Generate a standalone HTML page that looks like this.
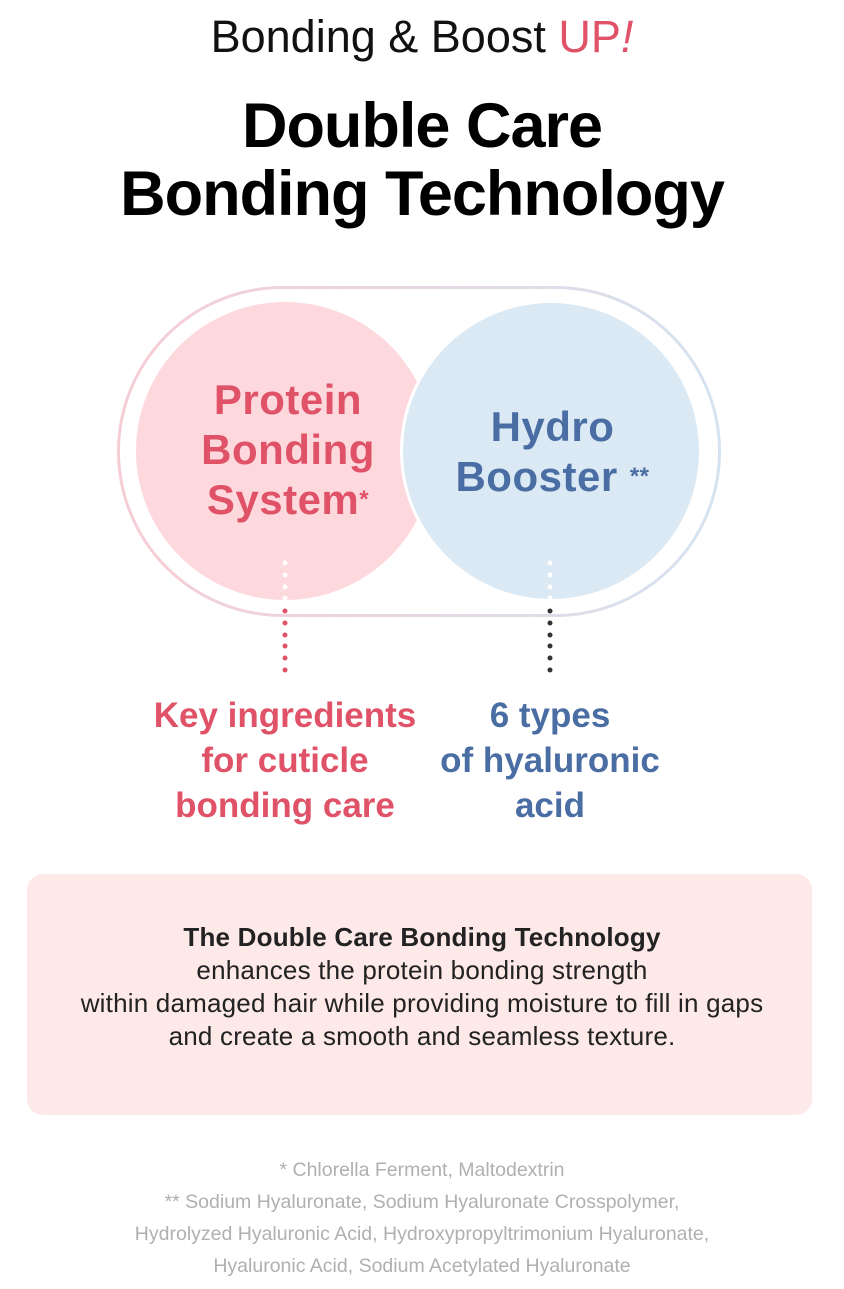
<!DOCTYPE html>
<html><head><meta charset="utf-8"><style>
body{margin:0;width:844px;height:1289px;background:#fff;font-family:"Liberation Sans",sans-serif;position:relative;overflow:hidden}
.t{position:absolute;left:0;width:844px;text-align:center;white-space:nowrap}
</style></head><body>
<div class="t" style="top:11px;font-size:45px;color:#111;line-height:52px">Bonding &amp; Boost <span style="color:#e05268">UP<i>!</i></span></div>
<div class="t" style="top:92px;font-size:63px;font-weight:bold;color:#000;line-height:68px;letter-spacing:-1px">Double Care<br>Bonding Technology</div>
<svg style="position:absolute;left:0;top:0" width="844" height="700">
<defs><linearGradient id="g" x1="0" x2="1"><stop offset="0" stop-color="#f7cdd5"/><stop offset="1" stop-color="#d5e3f0"/></linearGradient></defs>
<rect x="118.5" y="287.5" width="601" height="328" rx="164" fill="none" stroke="url(#g)" stroke-width="3"/>
<circle cx="285" cy="451" r="149" fill="#fdd9de"/>
<circle cx="551" cy="451" r="151" fill="#fff"/>
<circle cx="551" cy="451" r="148" fill="#dbe9f4"/>
<g fill="#fff"><circle cx="285" cy="563" r="2.5"/><circle cx="285" cy="575" r="2.5"/><circle cx="285" cy="587" r="2.5"/><circle cx="285" cy="598" r="2.5"/>
<circle cx="550" cy="563" r="2.5"/><circle cx="550" cy="575" r="2.5"/><circle cx="550" cy="587" r="2.5"/><circle cx="550" cy="598" r="2.5"/></g>
<g fill="#e05268"><circle cx="285" cy="611" r="2.5"/><circle cx="285" cy="623" r="2.5"/><circle cx="285" cy="635" r="2.5"/><circle cx="285" cy="646" r="2.5"/><circle cx="285" cy="658" r="2.5"/><circle cx="285" cy="670" r="2.5"/></g>
<g fill="#333"><circle cx="550" cy="611" r="2.5"/><circle cx="550" cy="623" r="2.5"/><circle cx="550" cy="635" r="2.5"/><circle cx="550" cy="646" r="2.5"/><circle cx="550" cy="658" r="2.5"/><circle cx="550" cy="670" r="2.5"/></g>
</svg>
<div style="position:absolute;left:178px;width:220px;top:375px;text-align:center;font-size:42px;font-weight:bold;color:#e05268;line-height:50px;white-space:nowrap;letter-spacing:0.5px">Protein<br>Bonding<br>System<span style="font-size:24px;vertical-align:top">*</span></div>
<div style="position:absolute;left:440px;width:225px;top:402px;text-align:center;font-size:42px;font-weight:bold;color:#4a6ea3;line-height:50px;white-space:nowrap;letter-spacing:0.5px">Hydro<br>Booster <span style="font-size:24px;vertical-align:top">**</span></div>
<div style="position:absolute;left:125px;width:320px;top:693px;text-align:center;font-size:35px;font-weight:bold;color:#e05268;line-height:45px;white-space:nowrap">Key ingredients<br>for cuticle<br>bonding care</div>
<div style="position:absolute;left:390px;width:320px;top:693px;text-align:center;font-size:35px;font-weight:bold;color:#4a6ea3;line-height:45px;white-space:nowrap">6 types<br>of hyaluronic<br>acid</div>
<div style="position:absolute;left:27px;top:874px;width:785px;height:241px;background:#fde9e7;border-radius:16px"></div>
<div class="t" style="top:921px;font-size:26px;color:#222;line-height:33px;letter-spacing:0.2px"><b>The Double Care Bonding Technology</b><br>enhances the protein bonding strength<br>within damaged hair while providing moisture to fill in gaps<br>and create a smooth and seamless texture.</div>
<div class="t" style="top:1154px;font-size:19.5px;color:#b0b0b0;line-height:32px">* Chlorella Ferment, Maltodextrin<br>** Sodium Hyaluronate, Sodium Hyaluronate Crosspolymer,<br>Hydrolyzed Hyaluronic Acid, Hydroxypropyltrimonium Hyaluronate,<br>Hyaluronic Acid, Sodium Acetylated Hyaluronate</div>
</body></html>
